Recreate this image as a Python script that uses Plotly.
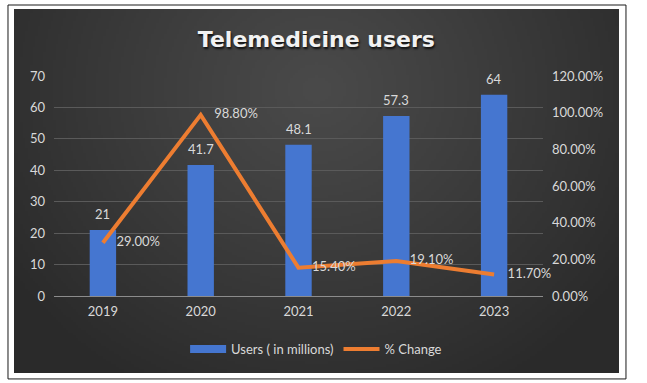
import base64, struct, zlib
import numpy as np
import plotly.graph_objects as go

# ---- data ----
years = ["2019", "2020", "2021", "2022", "2023"]
users_millions = [21, 41.7, 48.1, 57.3, 64]
pct_change = [0.29, 0.988, 0.154, 0.191, 0.117]
title_text = "Telemedicine users"
bar_name = "Users ( in millions)"
line_name = "% Change"

# ---- background gradient image (styling only) ----
def gradient_png(w=240, h=140):
    yy, xx = np.mgrid[0:h, 0:w]
    nx = (xx / (w - 1) - 0.5) / 0.62
    ny = (yy / (h - 1) - 0.22) / 0.95
    d = np.clip(np.sqrt(nx ** 2 + ny ** 2), 0, 1)
    v = 0x4a - (0x4a - 0x2a) * d ** 1.1
    arr = np.repeat(v[:, :, None], 3, axis=2).astype(np.uint8)
    raw = b"".join(b"\x00" + arr[i].tobytes() for i in range(h))

    def chunk(t, d_):
        c = struct.pack(">I", len(d_)) + t + d_
        return c + struct.pack(">I", zlib.crc32(t + d_) & 0xFFFFFFFF)

    png = (b"\x89PNG\r\n\x1a\n"
           + chunk(b"IHDR", struct.pack(">IIBBBBB", w, h, 8, 2, 0, 0, 0))
           + chunk(b"IDAT", zlib.compress(raw))
           + chunk(b"IEND", b""))
    return "data:image/png;base64," + base64.b64encode(png).decode()

FONT = "Lato"
TXT = "#d9d9d9"
FS = 13
BLUE = "#4576d0"
ORANGE = "#ed7d31"

fig = go.Figure()
fig.add_trace(go.Bar(
    x=years, y=users_millions, name=bar_name,
    marker=dict(color=BLUE, line=dict(width=0)),
    width=0.27, showlegend=False,
))
# legend entry for the bars (wide rectangle like the original legend key)
fig.add_trace(go.Scatter(
    x=[years[0]], y=[None], name=bar_name, mode="lines",
    line=dict(color=BLUE, width=8), hoverinfo="skip",
))
fig.add_trace(go.Scatter(
    x=years, y=pct_change, name=line_name, yaxis="y2",
    mode="lines+markers+text",
    line=dict(color=ORANGE, width=4),
    marker=dict(size=20, color="rgba(0,0,0,0)"),
    texttemplate="%{y:.2%}", textposition="middle right",
    textfont=dict(color=TXT, size=FS, family=FONT),
    cliponaxis=False,
))
# bar value labels (category axis: position by category index)
for i, val in enumerate(users_millions):
    fig.add_annotation(x=i, y=val, xref="x", yref="y", text=f"{val}",
                       showarrow=False, yshift=16,
                       font=dict(color=TXT, size=FS, family=FONT))

# paper coords for the chart frame
x0d, x1d, y0d, y1d = -0.0818, 1.1554, -0.35, 1.3045
fig.update_layout(
    width=647, height=383,
    margin=dict(l=54, r=104, t=76, b=87),
    paper_bgcolor="white",
    plot_bgcolor="rgba(0,0,0,0)",
    font=dict(family=FONT, size=FS, color=TXT),
    title=dict(text="<b>" + title_text + "</b>", x=0.489, xanchor="center",
               y=1 - 39.5 / 383, yanchor="middle",
               font=dict(family="DejaVu Sans", size=22, color="#f2f2f2",
                         shadow="1px 2px 2px #111111")),
    showlegend=True,
    legend=dict(orientation="h", x=0.536, xanchor="center", y=-0.241, yanchor="middle",
                bgcolor="rgba(0,0,0,0)", font=dict(color=TXT, size=FS, family=FONT),
                itemwidth=36, traceorder="normal"),
    xaxis=dict(type="category", categoryorder="array", categoryarray=years,
               range=[-0.5, len(years) - 0.5],
               showgrid=False, showline=False, ticks="", tickfont=dict(color=TXT, size=FS),
               ticklabelstandoff=6),
    yaxis=dict(range=[0, 70], dtick=10, showgrid=True, gridcolor="#5a5a5a", gridwidth=1,
               zeroline=True, zerolinecolor="#8c8c8c", zerolinewidth=1,
               showline=False, ticks="", tickfont=dict(color=TXT, size=FS),
               ticklabelstandoff=8),
    yaxis2=dict(range=[0, 1.2], dtick=0.2, tickformat=".2%", overlaying="y", side="right",
                showgrid=False, zeroline=False, showline=False, ticks="",
                tickfont=dict(color=TXT, size=FS), ticklabelstandoff=8),
    images=[dict(source=gradient_png(), xref="paper", yref="paper",
                 x=x0d, y=y1d, sizex=x1d - x0d, sizey=y1d - y0d,
                 sizing="stretch", layer="below", xanchor="left", yanchor="top")],
    shapes=[dict(type="rect", xref="paper", yref="paper",
                 x0=-0.0941, x1=1.1697, y0=-0.377, y1=1.3227,
                 line=dict(color="#1a1a1a", width=1), fillcolor="rgba(0,0,0,0)",
                 layer="below")],
)

fig.write_html("out.html", config={"displayModeBar": False},
               post_script="document.body.style.margin='0';")
